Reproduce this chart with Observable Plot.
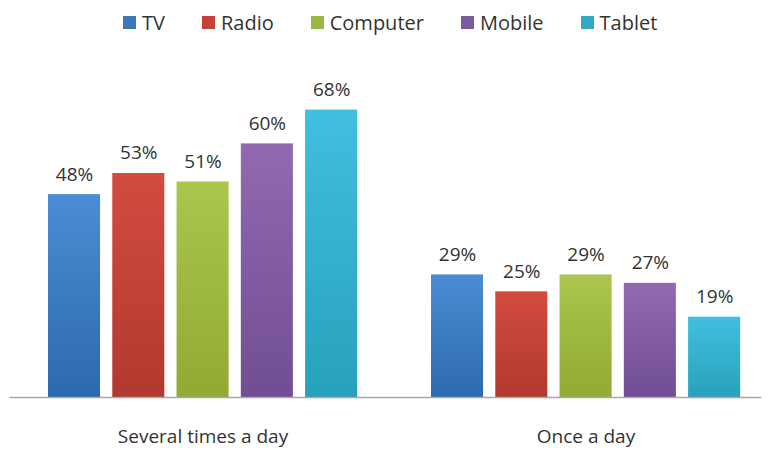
<!DOCTYPE html>
<html>
<head>
<meta charset="utf-8">
<script src="https://cdn.jsdelivr.net/npm/d3@7"></script>
<script src="https://cdn.jsdelivr.net/npm/@observablehq/plot@0.6"></script>
<style>
  html, body { margin: 0; padding: 0; background: #fff; }
  body { width: 770px; height: 452px; overflow: hidden; font-family: "Open Sans", sans-serif; color: #333; }
  #legend { height: 44px; display: flex; align-items: center; padding-left: 123px; box-sizing: border-box; font-size: 20px; }
  .item { display: flex; align-items: center; margin-right: 37px; }
  .sw { width: 13px; height: 13px; margin-right: 6px; }
</style>
</head>
<body>
<div id="legend"></div>
<div id="chart"></div>
<script>
const groups = ["Several times a day", "Once a day"];
const devices = ["TV", "Radio", "Computer", "Mobile", "Tablet"];
const severalTimesADay = [48, 53, 51, 60, 68];
const onceADay = [29, 25, 29, 27, 19];
const gradientTop = ["#4a8dd4", "#d24b3f", "#abc64c", "#9169b0", "#41bfe0"];
const gradientBottom = ["#2d69ad", "#b2392f", "#90aa33", "#714e93", "#28a1bb"];
const swatchColors = ["#3b77b9", "#c5413a", "#9db842", "#7b5b9f", "#32a8c2"];

const seriesByGroup = [severalTimesADay, onceADay];
const data = groups.flatMap((g, gi) =>
  devices.map((d, di) => ({ group: g, device: d, value: seriesByGroup[gi][di] }))
);

// Legend
const legend = document.getElementById("legend");
devices.forEach((d, i) => {
  const item = document.createElement("div");
  item.className = "item";
  const sw = document.createElement("div");
  sw.className = "sw";
  sw.style.background = swatchColors[i];
  const label = document.createElement("span");
  label.textContent = d;
  item.appendChild(sw);
  item.appendChild(label);
  legend.appendChild(item);
});

const chart = Plot.plot({
  width: 770,
  height: 408,
  marginLeft: 10,
  marginRight: 10,
  marginTop: 36,
  marginBottom: 55,
  style: { fontFamily: "'Open Sans', sans-serif", fontSize: "19px", color: "#333", background: "#fff", overflow: "visible" },
  fx: { domain: groups, paddingInner: 0.0418, paddingOuter: 0, round: false, label: null },
  x: { domain: devices, paddingInner: 0.19, paddingOuter: 0.45, align: 0.657, round: false, axis: null },
  y: { domain: [0, 75], axis: null },
  color: { domain: devices, range: devices.map((d, i) => `url(#grad${i})`) },
  marks: [
    Plot.barY(data, { fx: "group", x: "device", y: "value", fill: "device" }),
    Plot.text(data, { fx: "group", x: "device", y: "value", text: d => d.value + "%", lineAnchor: "bottom", dy: -14, fill: "#333" }),
    Plot.frame({ anchor: "bottom", facet: "super", stroke: "#a8a8a8", strokeWidth: 1.5 }),
    Plot.axisFx({ anchor: "bottom", tickSize: 0, tickPadding: 32, label: null, dx: 9, fill: "#333" })
  ]
});

const defs = d3.select(chart).insert("defs", ":first-child");
devices.forEach((d, i) => {
  const g = defs.append("linearGradient").attr("id", `grad${i}`).attr("x1", 0).attr("y1", 0).attr("x2", 0).attr("y2", 1);
  g.append("stop").attr("offset", "0%").attr("stop-color", gradientTop[i]);
  g.append("stop").attr("offset", "100%").attr("stop-color", gradientBottom[i]);
});

document.getElementById("chart").appendChild(chart);
</script>
</body>
</html>
